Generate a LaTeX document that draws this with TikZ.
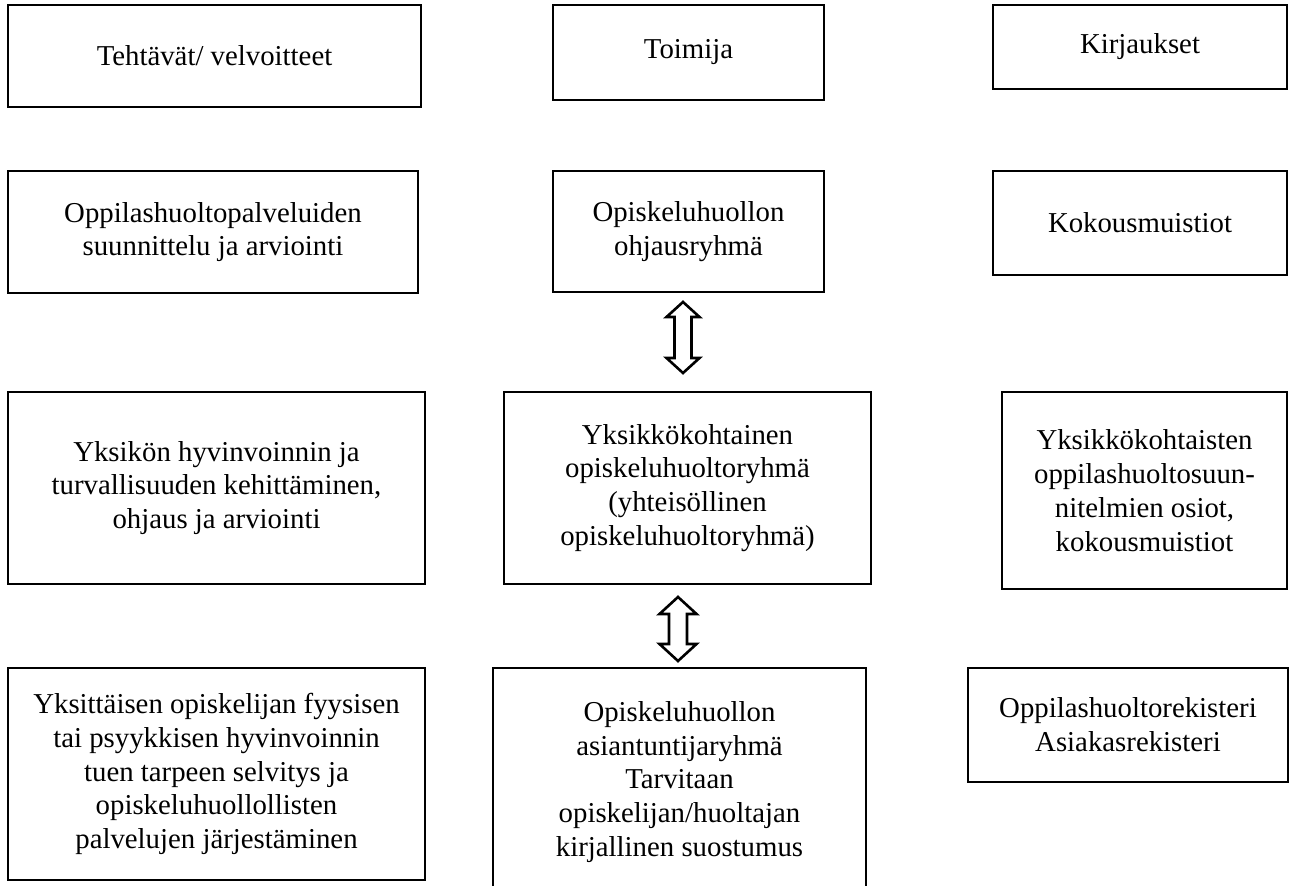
\documentclass[tikz,border=0pt]{standalone}
\usepackage{fontspec}
\setmainfont{Liberation Serif}

% hollow up-down arrow: x, top, bottom, half head, half shaft, head length
\newcommand{\fatarrow}[6]{%
  \draw[fat] (#1,#2) -- (#1+#4,#2+#6) -- (#1+#5,#2+#6) -- (#1+#5,#3-#6)
    -- (#1+#4,#3-#6) -- (#1,#3) -- (#1-#4,#3-#6) -- (#1-#5,#3-#6)
    -- (#1-#5,#2+#6) -- (#1-#4,#2+#6) -- cycle;}

\tikzset{
  box/.style 2 args={draw, line width=1.3pt, align=center, inner sep=0pt,
    minimum width=#1*0.5pt, minimum height=#2*0.5pt,
    font=\fontsize{14.4}{16.9}\selectfont},
  fat/.style={line width=1.3pt, fill=white, line join=miter}
}

\begin{document}
\begin{tikzpicture}[x=0.5pt,y=-0.5pt]
\clip (0,0) rectangle (1290,886);
% headings
\node[box={413}{102}] (tehtavat) at (214.5,56) {Tehtävät/ velvoitteet};
\node[box={271}{95}] (toimija) at (688.5,52.5) {Toimija};
\node[box={294}{84}] (kirjaukset) at (1140,47) {Kirjaukset};
% row 2
\node[box={410}{122}] (suunnittelu) at (213,232) {Oppilashuoltopalveluiden\\suunnittelu ja arviointi};
\node[box={271}{121}] (ohjaus) at (688.5,231.5) {Opiskeluhuollon\\ohjausryhmä};
\node[box={294}{104}] (muistiot) at (1140,223) {Kokousmuistiot};
% row 3
\node[box={417}{192}] (kehitys) at (216.5,488) {Yksikön hyvinvoinnin ja\\turvallisuuden kehittäminen,\\ohjaus ja arviointi};
\node[box={367}{192}] (yksikko) at (687.5,488) {Yksikkökohtainen\\opiskeluhuoltoryhmä\\(yhteisöllinen\\opiskeluhuoltoryhmä)};
\node[box={285}{197}] (osiot) at (1144.5,490.5) {Yksikkökohtaisten\\oppilashuoltosuun-\\nitelmien osiot,\\kokousmuistiot};
% row 4
\node[box={417}{212}] (yksittainen) at (216.5,774) {Yksittäisen opiskelijan fyysisen\\tai psyykkisen hyvinvoinnin\\tuen tarpeen selvitys ja\\opiskeluhuollollisten\\palvelujen järjestäminen};
\node[box={373}{228}] (asiantuntija) at (679.5,782) {Opiskeluhuollon\\asiantuntijaryhmä\\Tarvitaan\\opiskelijan/huoltajan\\kirjallinen suostumus};
\node[box={320}{114}] (rekisteri) at (1128,725) {Oppilashuoltorekisteri\\Asiakasrekisteri};

\fatarrow{683}{302}{373}{16.5}{8.5}{15}
\fatarrow{678}{597}{661}{18.5}{9}{17}

\end{tikzpicture}
\end{document}
